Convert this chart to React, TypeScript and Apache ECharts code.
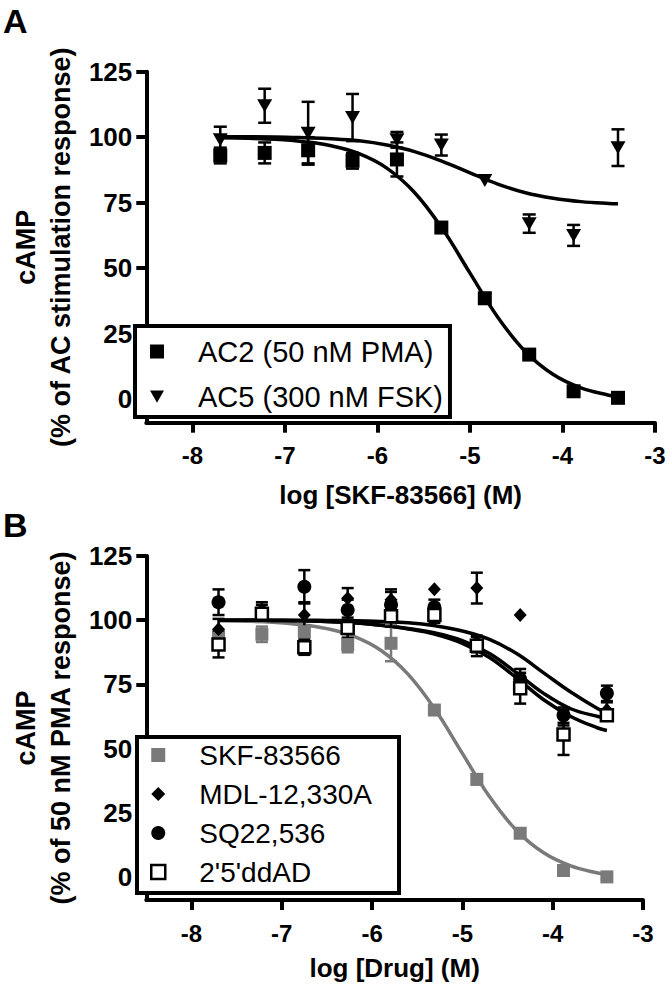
import React, { useEffect, useRef } from 'react';
import * as echarts from 'echarts';

const FONT = '"Liberation Sans", Arial, Helvetica, sans-serif';

// concentrations (log M), shared by both panels
const logConc = [-7.7, -7.22, -6.75, -6.27, -5.79, -5.31, -4.84, -4.36, -3.88, -3.4];

// Panel A
const ac2Mean = [93, 94, 95, 91, 91.5, 65.5, 38.5, 17, 3, 0.5];
const ac2Err = [3, 4, 5, 3, 6.5, 1.5, 2, 1, 1, 1];
const ac5Mean = [99, 112, 101.5, 107.5, 99, 97, 83.5, 67, 62.5, 96];
const ac5Err = [5, 6.5, 12, 9, 3, 4, 0, 3.5, 4, 7];

// fitted curves
const curveX = [-7.7, -7.4, -7.1, -6.8, -6.5, -6.2, -5.9, -5.6, -5.3, -5.0, -4.7, -4.4, -4.1, -3.8, -3.5, -3.4];
const ac2Fit = [99.8, 99.6, 99.2, 98.3, 96.7, 93.7, 88.2, 78.9, 65.1, 48.1, 31.3, 18.1, 9.4, 4.3, 1.5, 0.9];
const ac5Fit = [100.2, 100.2, 100.1, 99.8, 99.4, 98.6, 97.0, 94.5, 90.8, 86.4, 82.1, 78.8, 76.7, 75.4, 74.7, 74.6];

// Panel B
const skfMean = [93, 94.5, 95.5, 90.5, 91, 65, 38, 17, 2.5, 0];
const skfErr = [3, 3, 2, 3, 7, 1.5, 2, 1, 1, 1];
const mdlMean = [96.5, 104, 102, 108.5, 108, 112, 112.5, 102, 62, 65];
const mdlErr = [4, 3, 5, 4, 4, 0, 6, 0, 3, 3];
const sqMean = [107, 103, 113, 104, 106, 105, 90.5, 77, 63, 71.5];
const sqErr = [5, 3, 6.5, 4, 5, 3, 3, 4, 3, 3];
const ddadMean = [90.5, 102.5, 89.5, 97, 101.5, 102, 90, 73.5, 55.5, 63];
const ddadErr = [5, 2, 3, 4, 4, 3, 4, 6, 8, 2];

const skfFit = [99.8, 99.6, 99.2, 98.3, 96.7, 93.7, 88.2, 78.9, 65.1, 48.1, 31.3, 18.1, 9.4, 4.3, 1.5, 0.9];
const mdlFit = [100, 100, 100, 100, 99.9, 99.8, 99.5, 99, 97.8, 95.8, 92.5, 87, 79.5, 72, 65.5, 64];
const sqFit = [100, 100, 99.9, 99.8, 99.5, 99, 98, 96.8, 95, 92, 87, 79.5, 71.5, 65.5, 62.5, 62];
const ddadFit = [100, 100, 99.9, 99.8, 99.5, 99, 98, 96.6, 94.5, 91, 85.5, 77.5, 69, 62.5, 58, 57];

const xTicks = [-8, -7, -6, -5, -4, -3];
const yTicks = [0, 25, 50, 75, 100, 125];

const namesA = ['AC2 (50 nM PMA)', 'AC5 (300 nM FSK)'];
const namesB = ['SKF-83566', 'MDL-12,330A', 'SQ22,536', "2'5'ddAD"];

const GRAY = '#7a7a7a';
const DOWN_TRI = 'path://M0,0L16,0L8,14Z';
const SQUARE = 'path://M0,0L10,0L10,10L0,10Z';
const DIAMOND = 'path://M5,0L10,5L5,10L0,5Z';

function pts(xs: number[], ys: number[]) {
  return xs.map((x, i) => [x, ys[i]]);
}
function errPts(xs: number[], m: number[], e: number[]) {
  return xs.map((x, i) => [x, m[i], e[i]]);
}

function makeX(gridIndex: number, name: string, nameGap: number) {
  return {
    type: 'value',
    gridIndex,
    min: -8.5,
    max: -3,
    name,
    nameLocation: 'middle',
    nameGap,
    nameTextStyle: { fontFamily: FONT, fontWeight: 'bold', fontSize: 26, color: '#000' },
    axisLine: { show: true, onZero: false, lineStyle: { color: '#000', width: 4 } },
    axisTick: { show: true, inside: false, length: 10, customValues: xTicks, lineStyle: { color: '#000', width: 4 } },
    axisLabel: { customValues: xTicks, margin: 21, fontFamily: FONT, fontWeight: 'bold', fontSize: 24, color: '#000' },
    splitLine: { show: false },
  };
}

function makeY(gridIndex: number, name: string, nameGap: number) {
  return {
    type: 'value',
    gridIndex,
    min: -9,
    max: 125,
    name,
    nameLocation: 'middle',
    nameGap,
    nameRotate: 90,
    nameTextStyle: { fontFamily: FONT, fontWeight: 'bold', fontSize: 27, lineHeight: 35, color: '#000' },
    axisLine: { show: true, onZero: false, lineStyle: { color: '#000', width: 4 } },
    axisTick: { show: true, inside: false, length: 10, customValues: yTicks, lineStyle: { color: '#000', width: 4 } },
    axisLabel: { customValues: yTicks, margin: 14, fontFamily: FONT, fontWeight: 'bold', fontSize: 26, color: '#000' },
    splitLine: { show: false },
  };
}

function errSeries(idx: number, data: number[][], color: string, capW: number) {
  return {
    type: 'custom',
    xAxisIndex: idx,
    yAxisIndex: idx,
    z: 3,
    silent: true,
    dimensions: ['x', 'm', 'e'],
    encode: { x: 0, y: 1 },
    data,
    renderItem: (params: any, api: any) => {
      const x = api.value(0);
      const m = api.value(1);
      const e = api.value(2);
      if (!e) return { type: 'group', children: [] };
      const t = api.coord([x, m + e]);
      const b = api.coord([x, m - e]);
      const hw = capW / 2;
      const style = { stroke: color, lineWidth: 2.5 };
      return {
        type: 'group',
        children: [
          { type: 'line', shape: { x1: t[0], y1: t[1], x2: b[0], y2: b[1] }, style },
          { type: 'line', shape: { x1: t[0] - hw, y1: t[1], x2: t[0] + hw, y2: t[1] }, style },
          { type: 'line', shape: { x1: b[0] - hw, y1: b[1], x2: b[0] + hw, y2: b[1] }, style },
        ],
      };
    },
  };
}

function fitSeries(idx: number, name: string, ys: number[], color: string) {
  return {
    type: 'line',
    name,
    xAxisIndex: idx,
    yAxisIndex: idx,
    data: pts(curveX, ys),
    smooth: 0.4,
    showSymbol: false,
    symbol: 'none',
    z: 2,
    silent: true,
    lineStyle: { color, width: 3.5 },
  };
}

function scatterSeries(idx: number, name: string, ys: number[], symbol: string, size: any, itemStyle: any) {
  return {
    type: 'scatter',
    name,
    xAxisIndex: idx,
    yAxisIndex: idx,
    data: pts(logConc, ys),
    symbol,
    symbolSize: size,
    z: 4,
    itemStyle: { opacity: 1, ...itemStyle },
  };
}

export default function App() {
  const ref = useRef<HTMLDivElement>(null);

  useEffect(() => {
    if (!ref.current) return;
    const chart = echarts.init(ref.current, null, { renderer: 'svg' });
    const option: any = {
      animation: false,
      backgroundColor: '#fff',
      grid: [
        { left: 128, right: 15, top: 71.7, height: 351, containLabel: false },
        { left: 125, right: 27, top: 556, height: 344, containLabel: false },
      ],
      xAxis: [makeX(0, 'log [SKF-83566] (M)', 59), makeX(1, 'log [Drug] (M)', 55)],
      yAxis: [
        makeY(0, 'cAMP\n(% of AC stimulation response)', 62),
        makeY(1, 'cAMP\n(% of 50 nM PMA response)', 61),
      ],
      legend: [
        {
          orient: 'vertical',
          left: 135,
          top: 326,
          data: [
            { name: namesA[0], icon: SQUARE },
            { name: namesA[1], icon: DOWN_TRI },
          ],
          itemWidth: 14,
          itemHeight: 14,
          itemGap: 16,
          symbolKeepAspect: true,
          padding: [11, 7, 6, 15],
          borderColor: '#000',
          borderWidth: 4,
          backgroundColor: '#fff',
          selectedMode: false,
          textStyle: { fontFamily: FONT, fontSize: 29, color: '#000', padding: [0, 0, 0, 29] },
          z: 10,
        },
        {
          orient: 'vertical',
          left: 137,
          top: 737,
          data: [
            { name: namesB[0], icon: SQUARE },
            { name: namesB[1], icon: DIAMOND },
            { name: namesB[2], icon: 'circle' },
            {
              name: namesB[3],
              icon: 'path://M0,0L10,0L10,10L0,10Z',
              itemStyle: { color: '#fff', borderColor: '#000', borderWidth: 2.5 },
            },
          ],
          itemWidth: 14,
          itemHeight: 14,
          itemGap: 11,
          symbolKeepAspect: true,
          padding: [4, 27, 7, 13],
          borderColor: '#000',
          borderWidth: 4,
          backgroundColor: '#fff',
          selectedMode: false,
          textStyle: { fontFamily: FONT, fontSize: 28, color: '#000', padding: [0, 0, 0, 29] },
          z: 10,
        },
      ],
      graphic: [
        { type: 'text', left: 3, top: 4, style: { text: 'A', font: `bold 34px ${FONT}`, fill: '#000' } },
        { type: 'text', left: 3, top: 508, style: { text: 'B', font: `bold 34px ${FONT}`, fill: '#000' } },
      ],
      series: [
        // Panel A
        fitSeries(0, 'AC2 fit', ac2Fit, '#000'),
        fitSeries(0, 'AC5 fit', ac5Fit, '#000'),
        errSeries(0, errPts(logConc, ac2Mean, ac2Err), '#000', 13),
        errSeries(0, errPts(logConc, ac5Mean, ac5Err), '#000', 13),
        scatterSeries(0, namesA[0], ac2Mean, 'rect', 14, { color: '#000' }),
        scatterSeries(0, namesA[1], ac5Mean, DOWN_TRI, [15, 13], { color: '#000' }),
        // Panel B
        fitSeries(1, 'SKF fit', skfFit, GRAY),
        fitSeries(1, 'MDL fit', mdlFit, '#000'),
        fitSeries(1, 'SQ fit', sqFit, '#000'),
        fitSeries(1, 'ddAD fit', ddadFit, '#000'),
        errSeries(1, errPts(logConc, skfMean, skfErr), GRAY, 12),
        errSeries(1, errPts(logConc, mdlMean, mdlErr), '#000', 12),
        errSeries(1, errPts(logConc, sqMean, sqErr), '#000', 12),
        errSeries(1, errPts(logConc, ddadMean, ddadErr), '#000', 12),
        scatterSeries(1, namesB[0], skfMean, 'rect', 13, { color: GRAY }),
        scatterSeries(1, namesB[1], mdlMean, 'diamond', [13, 14], { color: '#000' }),
        scatterSeries(1, namesB[2], sqMean, 'circle', 14, { color: '#000' }),
        scatterSeries(1, namesB[3], ddadMean, 'rect', 12, { color: '#fff', borderColor: '#000', borderWidth: 2.5 }),
      ],
    };
    chart.setOption(option);
    return () => {
      chart.dispose();
    };
  }, []);

  return (
    <div
      ref={ref}
      style={{ position: 'fixed', left: 0, top: 0, width: 670, height: 987, background: '#fff' }}
    />
  );
}
